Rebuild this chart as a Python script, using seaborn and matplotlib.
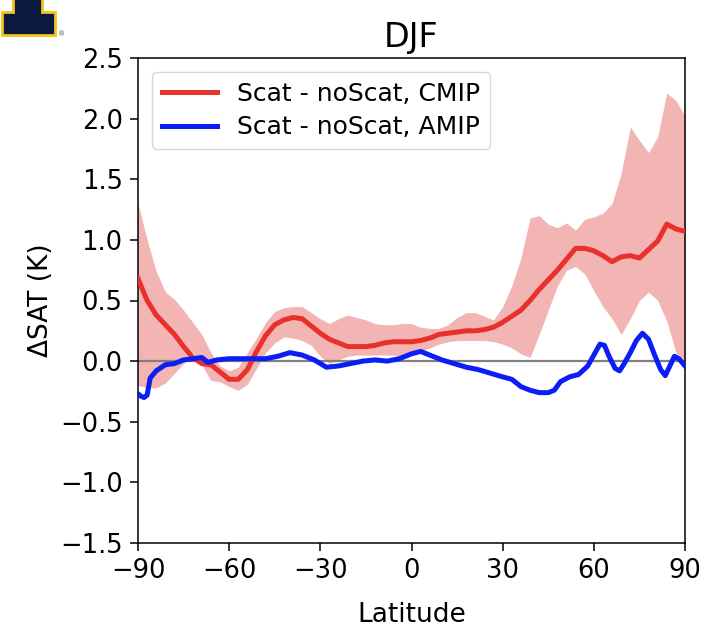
import numpy as np
import pandas as pd
import matplotlib
matplotlib.use("Agg")
import matplotlib.pyplot as plt
import seaborn as sns
from matplotlib.patches import Polygon

# ---------------- data ----------------
lat_cmip = [-90, -87, -84, -81, -78, -75, -72, -69, -66, -63, -60, -57, -54, -51, -48, -45,
            -42, -39, -36, -33, -30, -27, -24, -21, -18, -15, -12, -9, -6, -3, 0, 3, 6, 9,
            12, 15, 18, 21, 24, 27, 30, 33, 36, 39, 42, 45, 48, 51, 54, 57, 60, 63, 66, 69,
            72, 75, 78, 81, 84, 87, 90]
cmip_mean = [0.68, 0.50, 0.38, 0.30, 0.22, 0.12, 0.03, -0.02, -0.03, -0.09, -0.15, -0.15,
             -0.07, 0.08, 0.21, 0.30, 0.34, 0.36, 0.35, 0.29, 0.23, 0.18, 0.15, 0.12, 0.12,
             0.12, 0.13, 0.15, 0.16, 0.16, 0.16, 0.17, 0.19, 0.22, 0.23, 0.24, 0.25, 0.25,
             0.26, 0.28, 0.32, 0.37, 0.42, 0.50, 0.59, 0.67, 0.75, 0.84, 0.93, 0.93, 0.91,
             0.87, 0.82, 0.86, 0.87, 0.85, 0.92, 0.99, 1.13, 1.09, 1.07]
cmip_upper = [1.30, 1.00, 0.74, 0.57, 0.51, 0.42, 0.32, 0.22, 0.07, -0.04, -0.08, -0.05,
              0.07, 0.19, 0.32, 0.41, 0.44, 0.45, 0.45, 0.40, 0.35, 0.31, 0.35, 0.38, 0.36,
              0.34, 0.31, 0.30, 0.30, 0.31, 0.31, 0.28, 0.27, 0.27, 0.30, 0.36, 0.40, 0.40,
              0.37, 0.34, 0.45, 0.62, 0.85, 1.18, 1.20, 1.13, 1.10, 1.14, 1.08, 1.17, 1.19,
              1.22, 1.30, 1.55, 1.93, 1.82, 1.72, 1.85, 2.21, 2.15, 2.02]
cmip_lower = [-0.20, -0.22, -0.22, -0.18, -0.10, -0.02, 0.07, -0.03, -0.16, -0.17, -0.21,
              -0.24, -0.19, -0.06, 0.07, 0.15, 0.20, 0.19, 0.17, 0.13, 0.04, -0.02, 0.01,
              0.04, 0.05, 0.05, 0.05, 0.05, 0.05, 0.04, 0.05, 0.08, 0.11, 0.14, 0.16, 0.17,
              0.17, 0.17, 0.17, 0.16, 0.14, 0.11, 0.06, 0.03, 0.22, 0.42, 0.62, 0.75, 0.78,
              0.72, 0.58, 0.45, 0.35, 0.22, 0.35, 0.50, 0.57, 0.50, 0.33, 0.07, 0.00]

lat_amip = [-90, -89, -88, -87, -86, -84, -81, -78, -75, -72, -69, -67, -64, -60, -56, -52,
            -48, -44, -40, -36, -32, -28, -24, -20, -16, -12, -8, -4, 0, 3, 6, 10, 14, 18,
            22, 26, 30, 33, 36, 39, 42, 45, 47, 49, 52, 55, 58, 60, 62, 63.5, 65, 67, 68.5,
            70, 72, 74, 76, 78, 80, 82, 83.5, 85, 86.5, 88, 90]
amip_mean = [-0.27, -0.29, -0.30, -0.28, -0.14, -0.08, -0.03, -0.02, 0.01, 0.02, 0.03,
             -0.01, 0.01, 0.02, 0.02, 0.02, 0.02, 0.04, 0.07, 0.05, 0.01, -0.05, -0.04,
             -0.02, 0.00, 0.01, 0.00, 0.02, 0.06, 0.08, 0.05, 0.01, -0.02, -0.05, -0.07,
             -0.10, -0.13, -0.15, -0.21, -0.24, -0.26, -0.26, -0.24, -0.17, -0.13, -0.11,
             -0.04, 0.05, 0.14, 0.13, 0.04, -0.06, -0.08, -0.02, 0.07, 0.17, 0.23, 0.18,
             0.05, -0.07, -0.12, -0.04, 0.04, 0.02, -0.04]

label_cmip = "Scat - noScat, CMIP"
label_amip = "Scat - noScat, AMIP"
xticks = [-90, -60, -30, 0, 30, 60, 90]
yticks = [-1.5, -1.0, -0.5, 0.0, 0.5, 1.0, 1.5, 2.0, 2.5]

# ---------------- plot ----------------
RED = "#e8312a"
BAND = "#f3b4b4"
BLUE = "#0a1ef5"

fig = plt.figure(figsize=(7.04, 6.29), dpi=100)
ax = fig.add_axes([138 / 704, 1 - 543 / 629, (685 - 138) / 704, (543 - 58) / 629])

ax.fill_between(lat_cmip, cmip_lower, cmip_upper, color=BAND, linewidth=0, zorder=1)
ax.axhline(0, color="#808080", linewidth=1.6, zorder=2)

df_c = pd.DataFrame({"lat": lat_cmip, "val": cmip_mean})
df_a = pd.DataFrame({"lat": lat_amip, "val": amip_mean})
sns.lineplot(data=df_c, x="lat", y="val", ax=ax, color=RED, linewidth=3.6,
             label=label_cmip, zorder=3)
sns.lineplot(data=df_a, x="lat", y="val", ax=ax, color=BLUE, linewidth=3.6,
             label=label_amip, zorder=3)

ax.set_xlim(-90, 90)
ax.set_ylim(-1.5, 2.5)
ax.set_xticks(xticks)
ax.set_yticks(yticks)
ax.set_xticklabels([f"{t}".replace("-", "\u2212") for t in xticks])
ax.set_yticklabels([f"{t:.1f}".replace("-", "\u2212") for t in yticks])
ax.tick_params(labelsize=18.5, length=6, width=1.1, pad=5)
for s in ax.spines.values():
    s.set_linewidth(1.1)
    s.set_color("black")

ax.set_xlabel("Latitude", fontsize=19, labelpad=13)
ax.set_ylabel("\u0394SAT (K)", fontsize=19, labelpad=4)
ax.set_title("DJF", fontsize=24, pad=8)

leg = ax.legend(loc="upper left", fontsize=18, frameon=True, handlelength=2.2,
                borderaxespad=0.55, labelspacing=0.38, handletextpad=0.8)
for line in leg.get_lines():
    line.set_linewidth(3.6)

# partial logo in the top-left corner
def fp(x, y):
    return (x / 704, 1 - y / 629)

logo = Polygon([fp(13, -5), fp(42, -5), fp(42, 12), fp(55, 12), fp(55, 35),
                fp(2, 35), fp(2, 12), fp(13, 12)], closed=True,
               transform=fig.transFigure, facecolor="#0b1840",
               edgecolor="#f2c31a", linewidth=2.0, zorder=5)
fig.patches.append(logo)
fig.text(62 / 704, 1 - 34 / 629, "\u00ae", fontsize=5, color="#555555",
         ha="center", va="center")

fig.savefig("out.png", dpi=100)
